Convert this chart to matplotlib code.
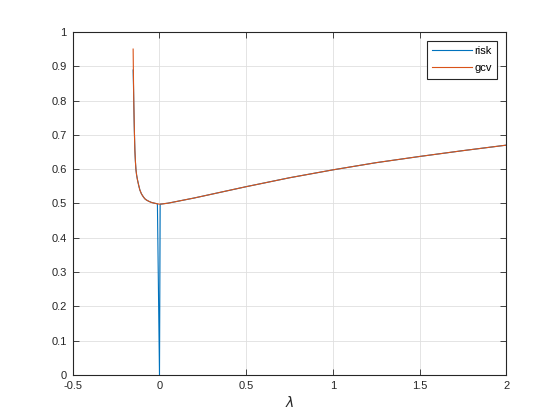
import numpy as np
import matplotlib.pyplot as plt

plt.rcParams['font.family'] = ['Liberation Sans', 'DejaVu Sans']

# lambda grid and the two curves
lam = [-0.152, -0.150, -0.148, -0.145, -0.142, -0.139, -0.136, -0.132, -0.127,
       -0.120, -0.113, -0.104, -0.094, -0.085, -0.075, -0.060, -0.046, -0.030,
       -0.012, 0.000, 0.004, 0.050, 0.100, 0.200, 0.300, 0.400, 0.500,
       0.750, 1.000, 1.250, 1.500, 1.750, 2.000]
risk = [0.889, 0.845, 0.785, 0.713, 0.655, 0.623, 0.600, 0.583, 0.569,
        0.553, 0.539, 0.528, 0.520, 0.514, 0.510, 0.506, 0.503, 0.501,
        0.499, 0.000, 0.498, 0.501, 0.506, 0.516, 0.527, 0.538, 0.549,
        0.575, 0.598, 0.619, 0.637, 0.654, 0.670]
gcv = [0.950, 0.860, 0.790, 0.715, 0.656, 0.624, 0.600, 0.583, 0.569,
       0.553, 0.539, 0.528, 0.520, 0.514, 0.510, 0.506, 0.503, 0.501,
       0.499, 0.498, 0.498, 0.501, 0.506, 0.516, 0.527, 0.538, 0.549,
       0.575, 0.598, 0.619, 0.637, 0.654, 0.670]

xticks = [-0.5, 0, 0.5, 1, 1.5, 2]
xtick_labels = ['-0.5', '0', '0.5', '1', '1.5', '2']
yticks = [0, 0.1, 0.2, 0.3, 0.4, 0.5, 0.6, 0.7, 0.8, 0.9, 1]
ytick_labels = ['0', '0.1', '0.2', '0.3', '0.4', '0.5', '0.6', '0.7', '0.8', '0.9', '1']

fig = plt.figure(figsize=(5.6, 4.2), dpi=100)
ax = fig.add_axes([0.130, 0.107, 0.774, 0.817])

ax.plot(lam, risk, color='#0072BD', lw=0.8, label='risk')
ax.plot(lam, gcv, color='#D95319', lw=0.8, label='gcv')

ax.set_xlim(-0.5, 2)
ax.set_ylim(0, 1)
ax.set_xticks(xticks, xtick_labels)
ax.set_yticks(yticks, ytick_labels)
ax.grid(True, color='#dfdfdf', lw=0.6)
ax.set_axisbelow(True)
ax.tick_params(direction='in', top=True, right=True, length=4, width=0.6,
               color='#262626', labelsize=8, labelcolor='#262626', pad=4.5)
for s in ax.spines.values():
    s.set_color('#262626')
    s.set_linewidth(0.8)
ax.set_xlabel(r'$\lambda$', fontsize=10, color='#262626', labelpad=3)

leg = ax.legend(loc='upper right', fontsize=8, fancybox=False, framealpha=1,
                edgecolor='#262626', handlelength=3.6, borderaxespad=0.8,
                handletextpad=0.2, borderpad=0.5, labelspacing=0.6)
leg.get_frame().set_linewidth(0.8)

fig.savefig('out.png', dpi=100)
